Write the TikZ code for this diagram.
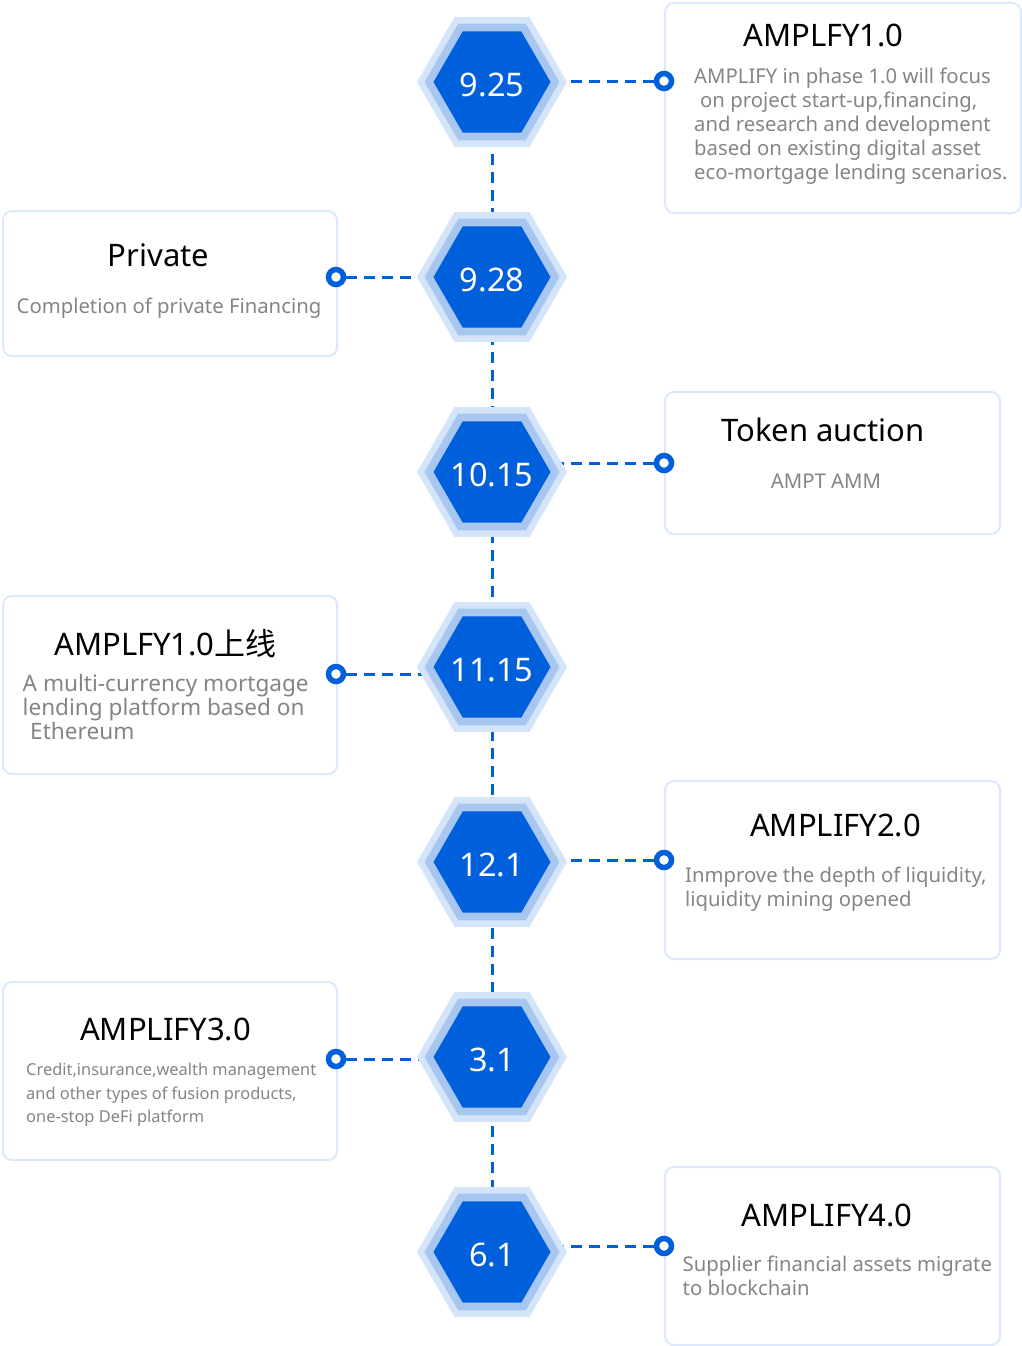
\documentclass[tikz,border=0pt]{standalone}
\usepackage{fontspec}
\setmainfont{Noto Sans}
\newfontfamily\cjk{Noto Sans CJK SC}
\usetikzlibrary{shapes.geometric,backgrounds}
\definecolor{mainblue}{HTML}{0060DB}
\definecolor{hexmidc}{HTML}{A8C7F0}
\definecolor{hexoutc}{HTML}{D5E5F9}
\definecolor{boxline}{HTML}{DCE8FB}
\definecolor{graytext}{HTML}{858585}
\tikzset{
  hexouter/.style={regular polygon, regular polygon sides=6, minimum size=150pt, inner sep=0pt, outer sep=0pt, fill=hexoutc},
  hexmiddle/.style={regular polygon, regular polygon sides=6, minimum size=135pt, inner sep=0pt, outer sep=0pt, fill=hexmidc},
  hexinner/.style={regular polygon, regular polygon sides=6, minimum size=117pt, inner sep=0pt, outer sep=0pt, fill=mainblue},
  hexlabel/.style={anchor=base, inner sep=0pt, yshift=-14pt, text=white, font=\fontsize{32.5}{38}\selectfont},
  dotc/.style={circle, draw=mainblue, line width=5.5pt, fill=white, minimum size=15pt, inner sep=0pt},
  boxst/.style={rectangle, draw=boxline, line width=2pt, rounded corners=9pt, fill=white, anchor=north west, inner sep=0pt},
  ttl/.style={anchor=base, inner sep=0pt, text=black, font=\fontsize{31}{36}\selectfont},
  bodyt/.style={anchor=base west, inner sep=0pt, text=graytext, font=\fontsize{20.3}{24}\selectfont},
  bodyc/.style={anchor=base, inner sep=0pt, text=graytext, font=\fontsize{20.3}{24}\selectfont},
  bodyw/.style={anchor=base west, inner sep=0pt, text=graytext, font=\fontsize{22.6}{24}\selectfont},
  bodyn/.style={anchor=base west, inner sep=0pt, text=graytext, font=\fontsize{16.4}{20}\selectfont},
  conn/.style={draw=mainblue, line width=3pt, dash pattern=on 11pt off 7pt},
}
\begin{document}
\begin{tikzpicture}[x=1pt,y=-1pt]
\useasboundingbox (0,0) rectangle (1021,1346);

% boxes
\node[boxst, minimum width=356pt, minimum height=210pt] (b1) at (664,2) {};
\node[boxst, minimum width=334pt, minimum height=145pt] (b2) at (2,210) {};
\node[boxst, minimum width=335pt, minimum height=142pt] (b3) at (664,391) {};
\node[boxst, minimum width=334pt, minimum height=178pt] (b4) at (2,595) {};
\node[boxst, minimum width=335pt, minimum height=178pt] (b5) at (664,780) {};
\node[boxst, minimum width=334pt, minimum height=178pt] (b6) at (2,981) {};
\node[boxst, minimum width=335pt, minimum height=178pt] (b7) at (664,1166) {};

% hexagons
\foreach \i/\y/\t in {1/82/9.25, 2/277/9.28, 3/472/10.15, 4/667/11.15, 5/862/12.1, 6/1057/3.1, 7/1252/6.1}{
  \node[hexouter] (ho\i) at (492,\y) {};
  \node[hexmiddle] (hm\i) at (492,\y) {};
  \node[hexinner] (h\i) at (492,\y) {};
  \node[hexlabel] (l\i) at (h\i.center) {\t};
}

% circles
\node[dotc] (c1) at (664,81) {};
\node[dotc] (c2) at (336,277) {};
\node[dotc] (c3) at (664,463) {};
\node[dotc] (c4) at (336,674) {};
\node[dotc] (c5) at (664,860) {};
\node[dotc] (c6) at (336,1059) {};
\node[dotc] (c7) at (664,1246) {};

% connectors
\begin{pgfonlayer}{background}
\draw[conn] (h1.center) -- (h7.center);
\foreach \i in {1,...,7}{
  \draw[conn] (c\i) -- (c\i -| h\i.center);
}
\end{pgfonlayer}

% box 1
\node[ttl] (t1) at (823.5,46.5) {AMPLFY1.0};
\node[bodyt] (d1a) at (694,83) {AMPLIFY in phase 1.0 will focus};
\node[bodyt] (d1b) at (700,107) {on project start-up,financing,};
\node[bodyt] (d1c) at (694,131) {and research and development};
\node[bodyt] (d1d) at (694,155) {based on existing digital asset};
\node[bodyt] (d1e) at (694,179) {eco-mortgage lending scenarios.};

% box 2
\node[ttl] (t2) at (158.5,266.5) {Private};
\node[bodyc] (d2a) at (169,313) {Completion of private Financing};

% box 3
\node[ttl] (t3) at (823,441) {Token auction};
\node[bodyc] (d3a) at (826,488) {AMPT AMM};

% box 4
\node[ttl] (t4) at (165.5,655.5) {AMPLFY1.0{\cjk 上线}};
\node[bodyw] (d4a) at (22.5,691.5) {A multi-currency mortgage};
\node[bodyw] (d4b) at (22.5,715.5) {lending platform based on};
\node[bodyw] (d4c) at (30,739.5) {Ethereum};

% box 5
\node[ttl] (t5) at (835.5,836.5) {AMPLIFY2.0};
\node[bodyt] (d5a) at (685,882) {Inmprove the depth of liquidity,};
\node[bodyt] (d5b) at (685,906) {liquidity mining opened};

% box 6
\node[ttl] (t6) at (165.5,1040) {AMPLIFY3.0};
\node[bodyn] (d6a) at (26,1075) {Credit,insurance,wealth management};
\node[bodyn] (d6b) at (26,1099) {and other types of fusion products,};
\node[bodyn] (d6c) at (26,1122.5) {one-stop DeFi platform};

% box 7
\node[ttl] (t7) at (827,1226.5) {AMPLIFY4.0};
\node[bodyt] (d7a) at (682.5,1271) {Supplier financial assets migrate};
\node[bodyt] (d7b) at (682.5,1295) {to blockchain};
\end{tikzpicture}
\end{document}
